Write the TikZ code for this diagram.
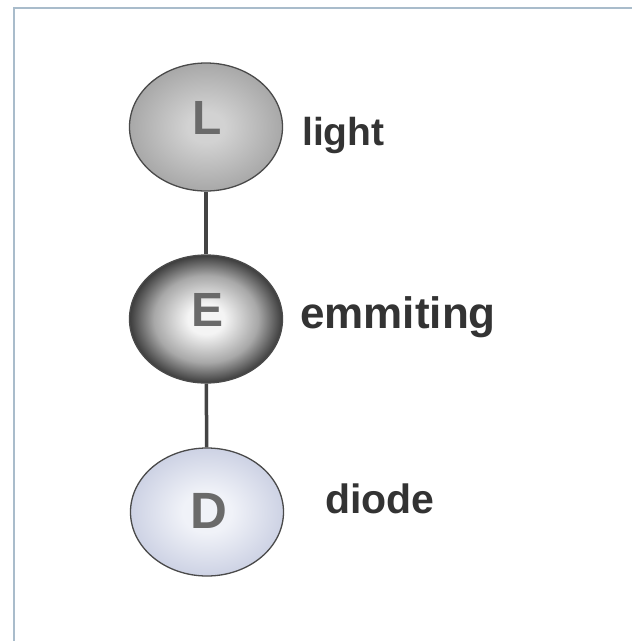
\documentclass[tikz,border=0pt]{standalone}
\usepackage{fontspec}
\setmainfont{Liberation Sans}
\usetikzlibrary{shapes.geometric}
\definecolor{framec}{HTML}{A9BCCB}
\definecolor{edgec}{HTML}{4A4A4A}
\definecolor{linkc}{HTML}{444444}
\definecolor{labelc}{HTML}{333333}
\definecolor{letterc}{HTML}{6A6A6A}
\definecolor{lin}{HTML}{D2D2D2}
\definecolor{lout}{HTML}{A8A8A8}
\definecolor{ein}{HTML}{F4F4F4}
\definecolor{emid}{HTML}{A8A8A8}
\definecolor{eout}{HTML}{3C3C3C}
\definecolor{din}{HTML}{F0F2F8}
\definecolor{dout}{HTML}{CDD2E4}
\pgfdeclareradialshading{lshade}{\pgfpoint{0bp}{0bp}}{color(0bp)=(lin); color(6bp)=(lin); color(25bp)=(lout); color(50bp)=(lout)}
\pgfdeclareradialshading{eshade}{\pgfpoint{0bp}{0bp}}{color(0bp)=(ein); color(6bp)=(ein); color(17bp)=(emid); color(25bp)=(eout); color(50bp)=(eout)}
\pgfdeclareradialshading{dshade}{\pgfpoint{0bp}{0bp}}{color(0bp)=(din); color(8bp)=(din); color(25bp)=(dout); color(50bp)=(dout)}
\tikzset{
  bubble/.style={ellipse, draw=edgec, line width=1.3pt, minimum width=153pt, minimum height=128pt, inner sep=0pt},
  letter/.style={anchor=base, text=letterc, font=\bfseries\fontsize{48}{48}\selectfont, inner sep=0pt},
  word/.style={anchor=base west, text=labelc, font=\bfseries\fontsize{#1}{#1}\selectfont, inner sep=0pt},
  conn/.style={draw=linkc, line width=3.5pt}
}
\begin{document}
\begin{tikzpicture}[x=1pt,y=-1pt]
\useasboundingbox[fill=white] (0,0) rectangle (632,641);
\draw[framec, line width=1.5pt] (14,641) -- (14,8) -- (632,8);
\node[bubble, shading=lshade] (L) at (206,127) {};
\node[bubble, shading=eshade] (E) at (206,319) {};
\node[bubble, shading=dshade] (D) at (207,512) {};
\draw[conn] (L) -- (E);
\draw[conn] (E) -- (D);
\node[letter] (Lt) at (207.5,134) {L};
\node[letter] (Et) at (207.5,326) {E};
\node[letter, font=\bfseries\fontsize{51}{51}\selectfont] (Dt) at (208.5,528) {D};
\node[word=39] (light) at (302,145) {light};
\node[word=44] (emm) at (300,328) {emmiting};
\node[word=41] (diode) at (325,513) {diode};
\end{tikzpicture}
\end{document}
